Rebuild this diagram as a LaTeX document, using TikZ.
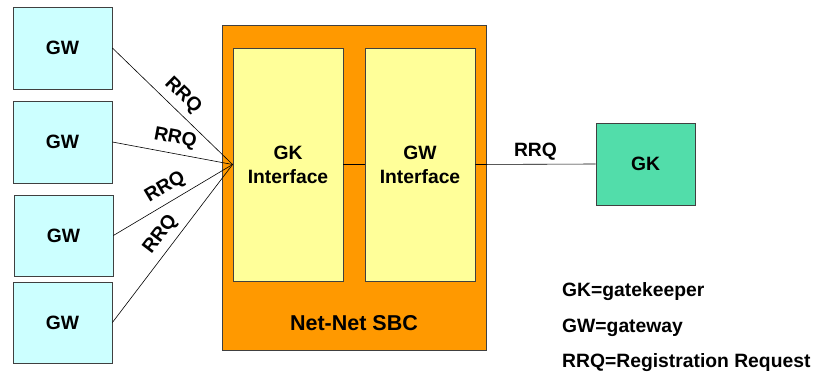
\documentclass[tikz,border=0pt]{standalone}
\usepackage{fontspec}
\setmainfont{Liberation Sans}
\definecolor{gwcyan}{HTML}{CCFFFF}
\definecolor{sbcorange}{HTML}{FF9900}
\definecolor{ifyellow}{HTML}{FFFF99}
\definecolor{gkgreen}{HTML}{52DDAA}
\begin{document}
\begin{tikzpicture}[x=1pt, y=-1pt,
  every node/.style={font=\fontsize{19.3}{24}\selectfont\bfseries},
  box/.style={draw=black!75, line width=0.8pt, rectangle, inner sep=0pt, align=center},
  gwbox/.style={box, fill=gwcyan, minimum width=99pt, minimum height=82pt},
  ifbox/.style={box, fill=ifyellow, minimum width=110pt, minimum height=233pt},
  link/.style={line width=0.6pt},
  rrq/.style={sloped, above, midway, inner sep=1pt, yshift=5pt}]

\useasboundingbox (0,0) rectangle (817,374);

\node[box, fill=sbcorange, minimum width=264pt, minimum height=325pt] (sbc) at (354,187.5) {};
\node[font=\fontsize{21.5}{24}\selectfont\bfseries] (sbcname) at (354,323) {Net-Net SBC};

\node[ifbox] (gki) at (288,164.5) {GK\\Interface};
\node[ifbox] (gwi) at (420,164.5) {GW\\Interface};

\node[gwbox] (gw1) at (62.5,48) {GW};
\node[gwbox] (gw2) at (62.5,142) {GW};
\node[gwbox, minimum height=81pt] (gw3) at (63.5,235.5) {GW};
\node[gwbox, minimum height=81pt] (gw4) at (62.5,322.5) {GW};

\node[box, fill=gkgreen, minimum width=99pt, minimum height=82pt] (gk) at (645.5,164) {GK};

\draw[link] (gw1.east) -- node[rrq] {RRQ} (gki.west);
\draw[link] (gw2.east) -- node[rrq] {RRQ} (gki.west);
\draw[link] (gw3.east) -- node[rrq] {RRQ} (gki.west);
\draw[link] (gw4.east) -- node[rrq] {RRQ} (gki.west);

\draw[link] (gki.east) -- (gwi.west);
\draw[link] (gwi.east) -- node[above] {RRQ} (gk.west);

\node[anchor=west, inner sep=0pt] (k1) at (562,292) {GK=gatekeeper};
\node[anchor=west, inner sep=0pt] (k2) at (562,328) {GW=gateway};
\node[anchor=west, inner sep=0pt] (k3) at (562,363) {RRQ=Registration Request};
\end{tikzpicture}
\end{document}
